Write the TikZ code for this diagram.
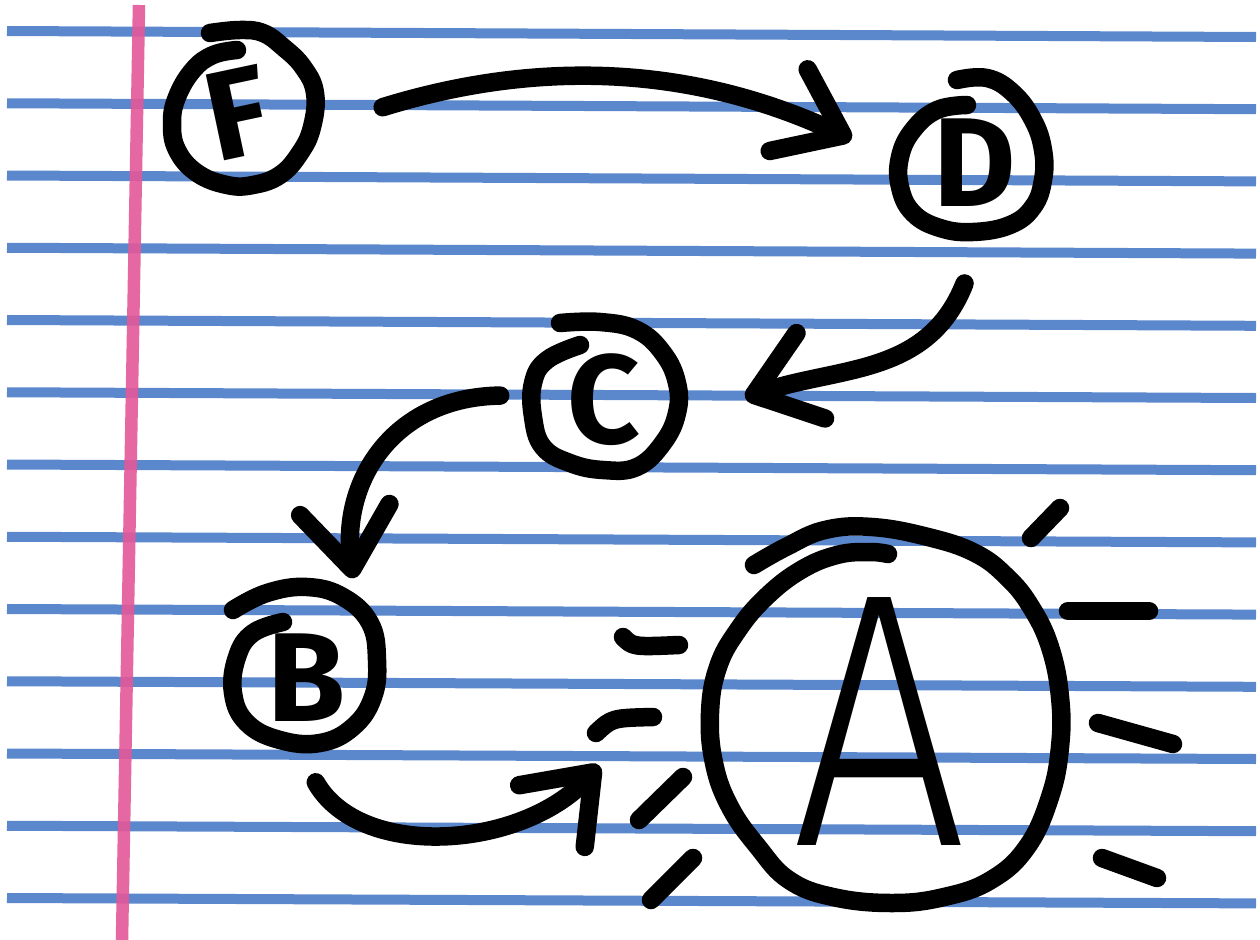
\documentclass[tikz,border=0pt]{standalone}
\usepackage{fontspec}
\usepackage{tikz}
\usetikzlibrary{arrows.meta}
\newfontfamily\handfont{Fira Sans}
\newfontfamily\thinfont{Fira Sans Light}
\definecolor{ink}{HTML}{000000}
\definecolor{rule}{HTML}{5B87CC}
\definecolor{margin}{HTML}{E4589A}
\tikzset{
  ruling/.style={draw=rule, line width=1mm},
  marginline/.style={draw=margin, line width=1.25mm, opacity=0.9},
  pen/.style={draw=ink, line width=1.85mm, line cap=round, line join=round},
  ring/.style={pen},
  letter/.style={circle, inner sep=0pt, outer sep=0pt, text=ink, font=\handfont\bfseries\fontsize{36}{36}\selectfont},
  arr/.style={pen, -{Straight Barb[length=6mm, width=9mm, round]}},
  ray/.style={pen},
}

\begin{document}
\begin{tikzpicture}[x=0.1mm, y=-0.1mm]
  \fill[white] (0,0) rectangle (1260,940);
  \useasboundingbox (0,0) rectangle (1260,940);
  % ruled paper
  \foreach \k in {0,...,12}
    \draw[ruling] (7,{31+72.25*\k}) -- (1256,{37+72.2*\k});
  \draw[marginline] (139,5) -- (122,940);

  % letters
  \node[letter, minimum size=13.6mm] (F) at (238,113) {\rotatebox{12}{F}};
  \node[letter, minimum size=14mm] (D) at (975,163) {D};
  \node[letter, minimum size=14mm] (C) at (604,400) {C};
  \node[letter, minimum size=14.4mm] (B) at (307,678) {B};
  \node[letter, minimum size=36mm, font=\thinfont\fontsize{103}{103}\selectfont] (A) at (879,722) {\scalebox{0.85}[1]{A}};

  % hand drawn rings
  \draw[ring] plot[smooth, tension=0.7] coordinates {(210,33) (240,30) (263,33) (283,47) (303,67) (315,93) (312,127) (300,153) (280,175) (253,185) (227,185) (197,173) (177,150) (172,123) (177,97) (193,70) (213,55) (237,50)};
  \draw[ring] plot[smooth, tension=0.7] coordinates {(957,80) (987,78) (1013,93) (1033,120) (1043,150) (1043,180) (1033,207) (1010,225) (973,232) (940,228) (913,213) (900,187) (900,157) (913,130) (937,110) (967,105)};
  \draw[ring] plot[smooth, tension=0.7] coordinates {(560,323) (600,322) (637,330) (663,353) (677,383) (677,413) (663,443) (637,467) (603,470) (570,463) (543,447) (533,417) (533,383) (547,360) (580,345)};
  \draw[ring] plot[smooth, tension=0.7] coordinates {(233,610) (267,593) (307,587) (343,597) (370,623) (377,660) (373,697) (353,727) (320,743) (280,740) (247,723) (233,693) (237,657) (253,633) (283,622)};
  \draw[ring] plot[smooth, tension=0.7] coordinates {(754,565) (786,547) (825,530) (872,527) (928,537) (975,553) (1007,577) (1031,607) (1050,647) (1060,697) (1060,747) (1050,797) (1027,847) (991,880) (944,897) (892,903) (833,897) (789,880) (758,847) (730,807) (714,763) (710,713) (718,667) (738,630) (766,597) (801,570) (837,555) (869,552) (888,554)};

  % arrows
  \draw[arr, shorten <=8.3mm, shorten >=5.9mm] (F.-16) .. controls (545,57) and (698,68) .. (D.181);
  \draw[arr, shorten <=5.5mm, shorten >=7.9mm] (D.-82) .. controls (928,376) and (840,366) .. (C.-19);
  \draw[arr, shorten <=3.4mm, shorten >=5.1mm] (C.176) .. controls (395,397) and (341,479) .. (B.43);
  \draw[arr, shorten <=3.8mm, shorten >=17.6mm] (B.-98) .. controls (360,860) and (520,850) .. (A.152);

  % rays round A
  \draw[ray] (1031,538) -- (1060,508);
  \draw[ray] (1068,611) -- (1149,611);
  \draw[ray] (1098,723) -- (1173,744);
  \draw[ray] (1102,858) -- (1157,878);
  \draw[ray] (623,637) .. controls (633,647) .. (679,645);
  \draw[ray] (596,733) .. controls (612,718) .. (653,717);
  \draw[ray] (639,820) -- (683,777);
  \draw[ray] (651,900) -- (693,858);
\end{tikzpicture}
\end{document}
